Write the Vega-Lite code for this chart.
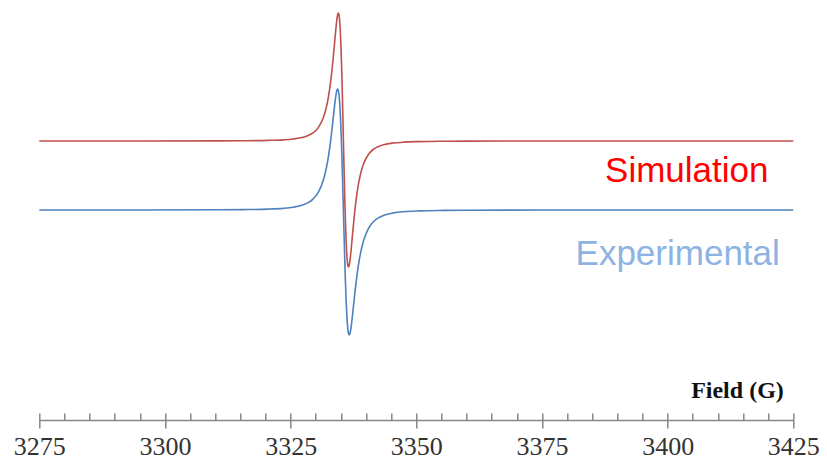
{
  "$schema": "https://vega.github.io/schema/vega-lite/v6.json",
  "width": 754,
  "height": 420,
  "autosize": {"type": "none"},
  "padding": {"left": 39.3, "top": 0, "right": 33.7, "bottom": 44},
  "background": "white",
  "config": {"view": {"stroke": null}},
  "datasets": {
    "spectra": [
      {"G": 3275, "v": 279.0, "s": "Simulation"},
      {"G": 3295.5, "v": 279.03, "s": "Simulation"},
      {"G": 3310.5, "v": 279.13, "s": "Simulation"},
      {"G": 3315.5, "v": 279.26, "s": "Simulation"},
      {"G": 3320.5, "v": 279.61, "s": "Simulation"},
      {"G": 3323.5, "v": 280.17, "s": "Simulation"},
      {"G": 3325.5, "v": 281.0, "s": "Simulation"},
      {"G": 3327.5, "v": 282.76, "s": "Simulation"},
      {"G": 3328.5, "v": 284.45, "s": "Simulation"},
      {"G": 3329.5, "v": 287.3, "s": "Simulation"},
      {"G": 3330.5, "v": 292.4, "s": "Simulation"},
      {"G": 3331.5, "v": 302.3, "s": "Simulation"},
      {"G": 3332.0, "v": 310.5, "s": "Simulation"},
      {"G": 3332.5, "v": 322.5, "s": "Simulation"},
      {"G": 3333.0, "v": 339.9, "s": "Simulation"},
      {"G": 3333.25, "v": 351.0, "s": "Simulation"},
      {"G": 3333.5, "v": 363.7, "s": "Simulation"},
      {"G": 3333.75, "v": 377.5, "s": "Simulation"},
      {"G": 3334.0, "v": 391.3, "s": "Simulation"},
      {"G": 3334.15, "v": 398.5, "s": "Simulation"},
      {"G": 3334.3, "v": 404.0, "s": "Simulation"},
      {"G": 3334.4, "v": 406.3, "s": "Simulation"},
      {"G": 3334.5, "v": 407.0, "s": "Simulation"},
      {"G": 3334.6, "v": 405.8, "s": "Simulation"},
      {"G": 3334.7, "v": 402.2, "s": "Simulation"},
      {"G": 3334.8, "v": 396.1, "s": "Simulation"},
      {"G": 3334.9, "v": 387.2, "s": "Simulation"},
      {"G": 3335.0, "v": 375.2, "s": "Simulation"},
      {"G": 3335.1, "v": 360.4, "s": "Simulation"},
      {"G": 3335.2, "v": 342.8, "s": "Simulation"},
      {"G": 3335.3, "v": 322.9, "s": "Simulation"},
      {"G": 3335.4, "v": 301.4, "s": "Simulation"},
      {"G": 3335.5, "v": 279.0, "s": "Simulation"},
      {"G": 3335.6, "v": 257.0, "s": "Simulation"},
      {"G": 3335.7, "v": 235.8, "s": "Simulation"},
      {"G": 3335.8, "v": 216.2, "s": "Simulation"},
      {"G": 3335.9, "v": 198.9, "s": "Simulation"},
      {"G": 3336.0, "v": 184.3, "s": "Simulation"},
      {"G": 3336.1, "v": 172.5, "s": "Simulation"},
      {"G": 3336.2, "v": 163.7, "s": "Simulation"},
      {"G": 3336.3, "v": 157.7, "s": "Simulation"},
      {"G": 3336.4, "v": 154.2, "s": "Simulation"},
      {"G": 3336.5, "v": 153.0, "s": "Simulation"},
      {"G": 3336.6, "v": 153.7, "s": "Simulation"},
      {"G": 3336.7, "v": 155.9, "s": "Simulation"},
      {"G": 3336.85, "v": 161.4, "s": "Simulation"},
      {"G": 3337.0, "v": 168.5, "s": "Simulation"},
      {"G": 3337.25, "v": 182.0, "s": "Simulation"},
      {"G": 3337.5, "v": 195.6, "s": "Simulation"},
      {"G": 3337.75, "v": 208.1, "s": "Simulation"},
      {"G": 3338.0, "v": 219.1, "s": "Simulation"},
      {"G": 3338.5, "v": 236.1, "s": "Simulation"},
      {"G": 3339.0, "v": 248.0, "s": "Simulation"},
      {"G": 3339.5, "v": 256.1, "s": "Simulation"},
      {"G": 3340.5, "v": 265.8, "s": "Simulation"},
      {"G": 3341.5, "v": 270.83, "s": "Simulation"},
      {"G": 3342.5, "v": 273.6, "s": "Simulation"},
      {"G": 3343.5, "v": 275.3, "s": "Simulation"},
      {"G": 3345.5, "v": 277.0, "s": "Simulation"},
      {"G": 3347.5, "v": 277.85, "s": "Simulation"},
      {"G": 3350.5, "v": 278.4, "s": "Simulation"},
      {"G": 3355.5, "v": 278.74, "s": "Simulation"},
      {"G": 3360.5, "v": 278.87, "s": "Simulation"},
      {"G": 3375.5, "v": 278.97, "s": "Simulation"},
      {"G": 3400, "v": 279.0, "s": "Simulation"},
      {"G": 3425, "v": 279.0, "s": "Simulation"},
      {"G": 3275, "v": 210.0, "s": "Experimental"},
      {"G": 3295.5, "v": 210.05, "s": "Experimental"},
      {"G": 3310.5, "v": 210.19, "s": "Experimental"},
      {"G": 3315.5, "v": 210.37, "s": "Experimental"},
      {"G": 3320.5, "v": 210.85, "s": "Experimental"},
      {"G": 3323.5, "v": 211.63, "s": "Experimental"},
      {"G": 3325.5, "v": 212.76, "s": "Experimental"},
      {"G": 3327.5, "v": 215.16, "s": "Experimental"},
      {"G": 3328.5, "v": 217.43, "s": "Experimental"},
      {"G": 3329.5, "v": 221.18, "s": "Experimental"},
      {"G": 3330.5, "v": 227.7, "s": "Experimental"},
      {"G": 3331.5, "v": 239.8, "s": "Experimental"},
      {"G": 3332.0, "v": 249.5, "s": "Experimental"},
      {"G": 3332.5, "v": 262.9, "s": "Experimental"},
      {"G": 3333.0, "v": 280.9, "s": "Experimental"},
      {"G": 3333.25, "v": 291.7, "s": "Experimental"},
      {"G": 3333.5, "v": 303.1, "s": "Experimental"},
      {"G": 3333.75, "v": 314.6, "s": "Experimental"},
      {"G": 3334.0, "v": 324.4, "s": "Experimental"},
      {"G": 3334.15, "v": 328.7, "s": "Experimental"},
      {"G": 3334.3, "v": 330.9, "s": "Experimental"},
      {"G": 3334.4, "v": 330.8, "s": "Experimental"},
      {"G": 3334.5, "v": 329.2, "s": "Experimental"},
      {"G": 3334.6, "v": 325.9, "s": "Experimental"},
      {"G": 3334.7, "v": 320.7, "s": "Experimental"},
      {"G": 3334.8, "v": 313.5, "s": "Experimental"},
      {"G": 3334.9, "v": 304.1, "s": "Experimental"},
      {"G": 3335.0, "v": 292.5, "s": "Experimental"},
      {"G": 3335.1, "v": 278.9, "s": "Experimental"},
      {"G": 3335.2, "v": 263.4, "s": "Experimental"},
      {"G": 3335.3, "v": 246.5, "s": "Experimental"},
      {"G": 3335.4, "v": 228.5, "s": "Experimental"},
      {"G": 3335.5, "v": 210.0, "s": "Experimental"},
      {"G": 3335.6, "v": 190.9, "s": "Experimental"},
      {"G": 3335.7, "v": 172.3, "s": "Experimental"},
      {"G": 3335.8, "v": 154.8, "s": "Experimental"},
      {"G": 3335.9, "v": 138.8, "s": "Experimental"},
      {"G": 3336.0, "v": 124.8, "s": "Experimental"},
      {"G": 3336.1, "v": 112.8, "s": "Experimental"},
      {"G": 3336.2, "v": 103.1, "s": "Experimental"},
      {"G": 3336.3, "v": 95.6, "s": "Experimental"},
      {"G": 3336.4, "v": 90.2, "s": "Experimental"},
      {"G": 3336.5, "v": 86.8, "s": "Experimental"},
      {"G": 3336.6, "v": 85.2, "s": "Experimental"},
      {"G": 3336.7, "v": 85.1, "s": "Experimental"},
      {"G": 3336.85, "v": 87.4, "s": "Experimental"},
      {"G": 3337.0, "v": 91.8, "s": "Experimental"},
      {"G": 3337.25, "v": 102.0, "s": "Experimental"},
      {"G": 3337.5, "v": 113.8, "s": "Experimental"},
      {"G": 3337.75, "v": 125.6, "s": "Experimental"},
      {"G": 3338.0, "v": 136.7, "s": "Experimental"},
      {"G": 3338.5, "v": 155.3, "s": "Experimental"},
      {"G": 3339.0, "v": 169.2, "s": "Experimental"},
      {"G": 3339.5, "v": 179.2, "s": "Experimental"},
      {"G": 3340.5, "v": 191.7, "s": "Experimental"},
      {"G": 3341.5, "v": 198.45, "s": "Experimental"},
      {"G": 3342.5, "v": 202.33, "s": "Experimental"},
      {"G": 3343.5, "v": 204.67, "s": "Experimental"},
      {"G": 3345.5, "v": 207.15, "s": "Experimental"},
      {"G": 3347.5, "v": 208.31, "s": "Experimental"},
      {"G": 3350.5, "v": 209.12, "s": "Experimental"},
      {"G": 3355.5, "v": 209.62, "s": "Experimental"},
      {"G": 3360.5, "v": 209.81, "s": "Experimental"},
      {"G": 3375.5, "v": 209.95, "s": "Experimental"},
      {"G": 3400, "v": 210.0, "s": "Experimental"},
      {"G": 3425, "v": 210.0, "s": "Experimental"}
    ],
    "labels": [
      {"G": 3403.8, "v": 238.3, "label": "Simulation"},
      {"G": 3402.0, "v": 155.0, "label": "Experimental"}
    ]
  },
  "layer": [
    {
      "data": {"name": "spectra"},
      "mark": {"type": "line", "strokeWidth": 1.6, "interpolate": "monotone"},
      "encoding": {
        "x": {
          "field": "G", "type": "quantitative",
          "scale": {"domain": [3275, 3425], "nice": false, "zero": false},
          "axis": {
            "orient": "bottom",
            "values": [3275, 3300, 3325, 3350, 3375, 3400, 3425],
            "format": "d",
            "grid": false,
            "domainColor": "#868686",
            "domainWidth": 1.5,
            "tickColor": "#868686",
            "tickWidth": 1.5,
            "tickSize": 8,
            "labelFont": "Liberation Serif",
            "labelFontSize": 26,
            "labelColor": "#333333",
            "labelPadding": 5,
            "labelFlush": false,
            "labelOverlap": false,
            "title": "Field (G)",
            "titleFont": "Liberation Serif",
            "titleFontWeight": "bold",
            "titleFontSize": 24,
            "titleColor": "#111111",
            "titleAlign": "right",
            "titleAnchor": "end",
            "titleBaseline": "alphabetic",
            "titleX": 744,
            "titleY": -23
          }
        },
        "y": {
          "field": "v", "type": "quantitative",
          "scale": {"domain": [0, 420], "nice": false, "zero": false},
          "axis": null
        },
        "color": {
          "field": "s", "type": "nominal",
          "scale": {"domain": ["Simulation", "Experimental"], "range": ["#c0504d", "#4f81bd"]},
          "legend": null
        }
      }
    },
    {
      "data": {"name": "labels"},
      "mark": {"type": "text", "font": "Liberation Sans", "fontSize": 35, "align": "center", "baseline": "alphabetic"},
      "encoding": {
        "x": {
          "field": "G", "type": "quantitative",
          "axis": {
            "orient": "bottom",
            "values": [3275, 3280, 3285, 3290, 3295, 3300, 3305, 3310, 3315, 3320, 3325, 3330, 3335, 3340, 3345, 3350, 3355, 3360, 3365, 3370, 3375, 3380, 3385, 3390, 3395, 3400, 3405, 3410, 3415, 3420, 3425],
            "domain": false,
            "grid": false,
            "labels": false,
            "title": null,
            "tickColor": "#868686",
            "tickWidth": 1.5,
            "tickSize": -7
          }
        },
        "y": {"field": "v", "type": "quantitative", "axis": null},
        "text": {"field": "label"},
        "color": {
          "field": "label", "type": "nominal",
          "scale": {"domain": ["Simulation", "Experimental"], "range": ["#ff0000", "#8db3e2"]},
          "legend": null
        }
      }
    }
  ],
  "resolve": {"axis": {"x": "independent"}, "scale": {"color": "independent"}}
}
